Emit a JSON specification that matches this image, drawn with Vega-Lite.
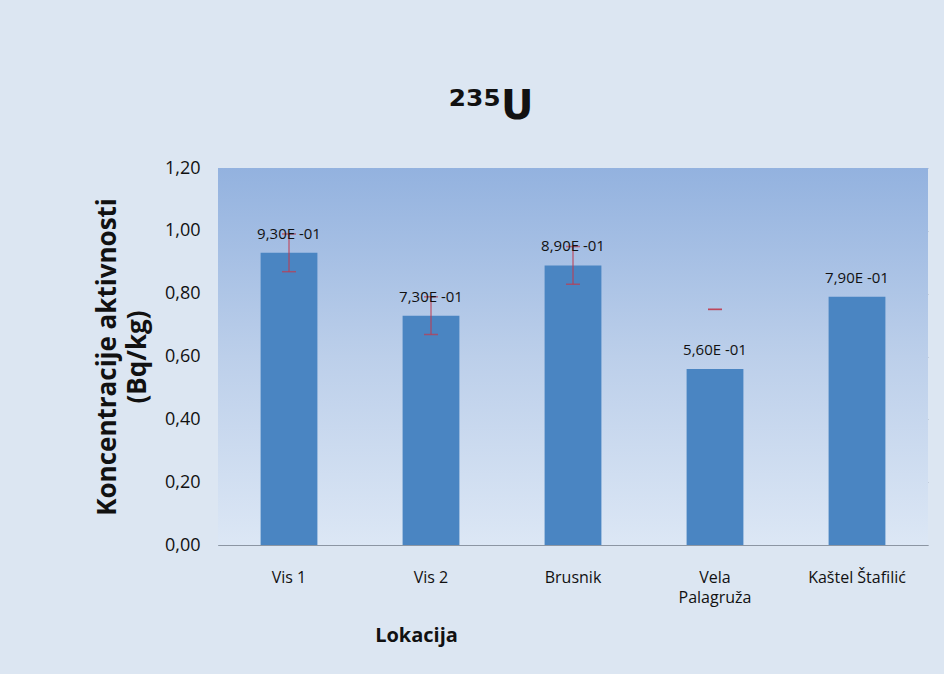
{
  "$schema": "https://vega.github.io/schema/vega-lite/v6.json",
  "autosize": {"type": "none"},
  "width": 710,
  "height": 377,
  "padding": {"left": 218, "top": 168, "right": 16, "bottom": 129},
  "background": "#dce6f2",
  "config": {
    "locale": {"number": {"decimal": ",", "thousands": ".", "grouping": [3], "currency": ["", " €"]}},
    "view": {"stroke": null},
    "font": "Open Sans"
  },
  "title": {
    "text": "²³⁵U",
    "font": "DejaVu Sans",
    "fontSize": 40,
    "fontWeight": "bold",
    "color": "#111111",
    "anchor": "middle",
    "dx": -82,
    "offset": 32
  },
  "data": {
    "values": [
      {"lokacija": "Vis 1", "value": 0.93, "lo": 0.87, "hi": 0.99, "label": "9,30E -01"},
      {"lokacija": "Vis 2", "value": 0.73, "lo": 0.67, "hi": 0.79, "label": "7,30E -01"},
      {"lokacija": "Brusnik", "value": 0.89, "lo": 0.83, "hi": 0.95, "label": "8,90E -01"},
      {"lokacija": "Vela Palagruža", "value": 0.56, "lo": 0.75, "hi": 0.75, "label": "5,60E -01"},
      {"lokacija": "Kaštel Štafilić", "value": 0.79, "lo": null, "hi": null, "label": "7,90E -01"}
    ]
  },
  "layer": [
    {
      "data": {"values": [{"bg": 1}]},
      "mark": {
        "type": "rect",
        "fill": {
          "gradient": "linear",
          "x1": 0, "y1": 0, "x2": 0, "y2": 1,
          "stops": [
            {"offset": 0, "color": "#93b2df"},
            {"offset": 0.5, "color": "#bccfea"},
            {"offset": 1, "color": "#dce7f5"}
          ]
        }
      },
      "encoding": {}
    },
    {
      "mark": {"type": "bar", "color": "#4a85c2"},
      "encoding": {
        "x": {
          "field": "lokacija",
          "type": "nominal",
          "sort": null,
          "scale": {"paddingInner": 0.6, "paddingOuter": 0.3},
          "axis": {
            "title": "Lokacija",
            "titleFont": "Open Sans",
            "titleFontSize": 20,
            "titleFontWeight": "bold",
            "titleColor": "#111111",
            "titlePadding": 20,
            "titleX": 198,
            "labelAngle": 0,
            "labelFontSize": 16,
            "labelColor": "#111111",
            "labelPadding": 24,
            "labelLineHeight": 20,
            "labelExpr": "datum.label == 'Vela Palagruža' ? ['Vela', 'Palagruža'] : datum.label",
            "ticks": false,
            "domainColor": "#8c96a3",
            "grid": false
          }
        },
        "y": {
          "field": "value",
          "type": "quantitative",
          "scale": {"domain": [0, 1.2]},
          "axis": {
            "title": ["Koncentracije aktivnosti", "(Bq/kg)"],
            "titleFont": "Open Sans",
            "titleFontSize": 26,
            "titleFontWeight": "bold",
            "titleColor": "#111111",
            "titlePadding": 14,
            "titleLineHeight": 30,
            "format": ".2f",
            "values": [0, 0.2, 0.4, 0.6, 0.8, 1.0, 1.2],
            "labelFontSize": 18,
            "labelColor": "#111111",
            "labelPadding": 18,
            "ticks": false,
            "domainColor": "#8c96a3",
            "grid": true,
            "gridColor": "#8594a8",
            "gridOpacity": 0.6
          }
        }
      }
    },
    {
      "transform": [{"filter": "datum.lo != null"}],
      "mark": {"type": "rule", "color": "#c0394d", "strokeWidth": 1},
      "encoding": {
        "x": {"field": "lokacija", "type": "nominal", "sort": null},
        "y": {"field": "lo", "type": "quantitative"},
        "y2": {"field": "hi"}
      }
    },
    {
      "transform": [{"filter": "datum.lo != null"}],
      "mark": {"type": "tick", "color": "#c0394d", "size": 14, "thickness": 1.5},
      "encoding": {
        "x": {"field": "lokacija", "type": "nominal", "sort": null},
        "y": {"field": "lo", "type": "quantitative"}
      }
    },
    {
      "transform": [{"filter": "datum.hi != null"}],
      "mark": {"type": "tick", "color": "#c0394d", "size": 14, "thickness": 1.5},
      "encoding": {
        "x": {"field": "lokacija", "type": "nominal", "sort": null},
        "y": {"field": "hi", "type": "quantitative"}
      }
    },
    {
      "mark": {"type": "text", "dy": -19, "fontSize": 15, "color": "#111111", "baseline": "middle"},
      "encoding": {
        "x": {"field": "lokacija", "type": "nominal", "sort": null},
        "y": {"field": "value", "type": "quantitative"},
        "text": {"field": "label"}
      }
    }
  ]
}
